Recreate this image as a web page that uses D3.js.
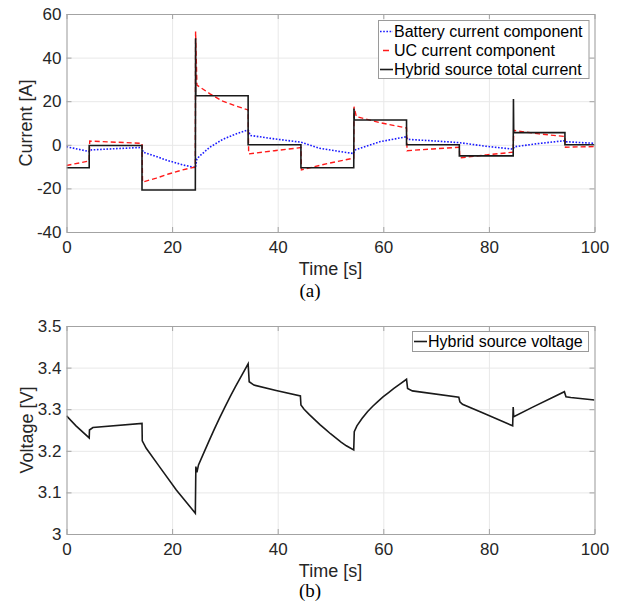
<!DOCTYPE html>
<html>
<head>
<meta charset="utf-8">
<script src="https://cdn.jsdelivr.net/npm/d3@7"></script>
<style>
  html, body { margin: 0; padding: 0; background: #ffffff; }
  svg { display: block; }
</style>
</head>
<body>
<script>
// ---------------- DATA ----------------
// Panel (a): currents [A] vs time [s]
const totalT = [0, 4.3, 4.3, 14.3, 14.3, 24.4, 24.45, 24.5, 34.4, 34.4, 44.4, 44.4, 54.4, 54.45, 54.5, 64.4, 64.4, 74.4, 74.4, 84.6, 84.65, 84.7, 94.4, 94.4, 100];
const totalI = [-10.5, -10.5, -0.3, -0.3, -20.7, -20.7, 48.9, 22.5, 22.5, 0, 0, -10.5, -10.5, 16.7, 11.4, 11.4, 0, 0, -5.1, -5.1, 21, 5.6, 5.6, 0, 0];

const battT = [0, 2, 4.3, 4.4, 9, 14.3, 14.5, 17, 19.3, 22, 24.4, 24.7, 25.2, 27.1, 29.6, 32.1, 34.4, 34.8, 39.4, 44.4, 47.9, 51.5, 54.4, 54.6, 59.3, 64.4, 64.6, 69.5, 74.4, 79.5, 84.6, 84.8, 89.5, 94.4, 94.6, 100];
const battI = [-0.9, -1.9, -3.1, -2.4, -1.8, -1.2, -3.4, -5.4, -7.3, -9.2, -10.5, -6.5, -5.2, -1.2, 2.5, 5.0, 6.8, 4.3, 2.7, 1.2, -1.6, -3.0, -4.0, -2.4, 1.4, 3.7, 2.5, 1.8, 1.0, -0.7, -2.0, -0.9, 0.6, 1.9, 1.4, 0.7];

const ucT = [0, 4.3, 4.4, 14.3, 14.4, 17, 19.3, 22, 24.4, 24.45, 24.7, 27.1, 29.6, 32.1, 34.4, 34.5, 39.4, 44.4, 44.5, 49.4, 54.4, 54.45, 54.9, 59.3, 64.4, 64.5, 69.4, 74.4, 74.5, 79.5, 84.6, 84.7, 89.5, 94.4, 94.5, 100];
const ucI = [-9.5, -7.4, 1.7, 0.7, -17.1, -15.3, -13.4, -11.5, -10.2, 52, 27.4, 23.5, 20.0, 17.8, 16.0, -4.2, -2.7, -1.3, -11.5, -8.6, -6.1, 17.5, 12.9, 10.2, 7.7, -2.7, -1.9, -1.1, -6.0, -4.6, -3.4, 6.6, 5.0, 3.8, -1.1, -0.8];

// Panel (b): voltage [V] vs time [s]
const voltT = [0, 1.8, 4.3, 4.35, 5.0, 14.3, 14.35, 15.1, 17.6, 20.8, 24.4, 24.5, 24.7, 25.0, 26, 27, 28, 29, 30, 31, 32, 33, 34.4, 34.6, 35.5, 39.7, 44.3, 44.4, 45, 46, 47, 48, 49, 50, 51, 52, 53, 54.4, 54.5, 55, 56, 57, 58, 59, 60, 61, 62, 63, 64.4, 64.6, 65.5, 74.3, 74.5, 75, 78.9, 84.5, 84.6, 84.7, 88.3, 94.3, 94.6, 95.5, 100];
const voltV = [3.284, 3.260, 3.231, 3.250, 3.256, 3.266, 3.224, 3.206, 3.162, 3.106, 3.050, 3.162, 3.148, 3.166, 3.195, 3.224, 3.252, 3.279, 3.305, 3.330, 3.354, 3.377, 3.409, 3.366, 3.358, 3.345, 3.332, 3.310, 3.300, 3.287, 3.275, 3.263, 3.252, 3.241, 3.231, 3.221, 3.212, 3.202, 3.246, 3.260, 3.278, 3.294, 3.307, 3.319, 3.330, 3.340, 3.350, 3.359, 3.372, 3.350, 3.344, 3.329, 3.318, 3.312, 3.291, 3.260, 3.305, 3.282, 3.305, 3.342, 3.330, 3.328, 3.322];

// Ticks
const xTicks = [0, 20, 40, 60, 80, 100];
const yTicksA = [-40, -20, 0, 20, 40, 60];
const yTicksB = [3, 3.1, 3.2, 3.3, 3.4, 3.5];
const yTickLabelsB = ["3", "3.1", "3.2", "3.3", "3.4", "3.5"];

const legendA = ["Battery current component", "UC current component", "Hybrid source total current"];
const legendB = ["Hybrid source voltage"];

// ---------------- DRAW ----------------
const W = 626, H = 609;
const FONT = "'Liberation Sans', Arial, Helvetica, sans-serif";
const SERIF = "'Liberation Serif', 'Times New Roman', serif";
const svg = d3.select("body").append("svg").attr("width", W).attr("height", H);
svg.append("rect").attr("width", W).attr("height", H).attr("fill", "#ffffff");

const boxColor = "#a3a3a3";
const gridColor = "#e8e8e8";
const textColor = "#262626";

function panel(opts) {
  const x = d3.scaleLinear().domain([0, 100]).range([opts.left, opts.right]);
  const y = d3.scaleLinear().domain(opts.yDomain).range([opts.bottom, opts.top]);
  const g = svg.append("g");
  const pw = opts.right - opts.left, ph = opts.bottom - opts.top;

  // grid
  g.append("g").attr("transform", `translate(0,${opts.bottom})`)
    .call(d3.axisBottom(x).tickValues(xTicks).tickSize(-ph).tickFormat(""))
    .call(s => { s.select(".domain").remove(); s.selectAll("line").attr("stroke", gridColor).attr("stroke-width", 1); });
  g.append("g").attr("transform", `translate(${opts.left},0)`)
    .call(d3.axisLeft(y).tickValues(opts.yTicks).tickSize(-pw).tickFormat(""))
    .call(s => { s.select(".domain").remove(); s.selectAll("line").attr("stroke", gridColor).attr("stroke-width", 1); });

  // series
  const clipId = "clip" + opts.id;
  svg.append("clipPath").attr("id", clipId).append("rect")
    .attr("x", opts.left).attr("y", opts.top - 1).attr("width", pw).attr("height", ph + 2);
  const line = d3.line().x(d => x(d[0])).y(d => y(d[1]));
  const sg = g.append("g").attr("clip-path", `url(#${clipId})`);
  opts.series.forEach(s => {
    sg.append("path").datum(d3.zip(s.t, s.v))
      .attr("d", line).attr("fill", "none")
      .attr("stroke", s.color).attr("stroke-width", s.width)
      .attr("stroke-dasharray", s.dash || null)
      .attr("stroke-linejoin", "miter");
  });

  // axes with inward ticks
  const styleAxis = s => {
    s.select(".domain").attr("stroke", boxColor).attr("stroke-width", 1);
    s.selectAll(".tick line").attr("stroke", boxColor);
    s.selectAll("text").attr("fill", textColor).style("font-family", FONT).style("font-size", "17px");
  };
  g.append("g").attr("transform", `translate(0,${opts.bottom})`)
    .call(d3.axisBottom(x).tickValues(xTicks).tickSizeInner(-5).tickSizeOuter(0).tickPadding(9))
    .call(styleAxis);
  g.append("g").attr("transform", `translate(0,${opts.top})`)
    .call(d3.axisTop(x).tickValues(xTicks).tickSizeInner(-5).tickSizeOuter(0).tickFormat(""))
    .call(styleAxis);
  g.append("g").attr("transform", `translate(${opts.left},0)`)
    .call(d3.axisLeft(y).tickValues(opts.yTicks).tickSizeInner(-5).tickSizeOuter(0).tickPadding(5)
      .tickFormat((d, i) => opts.yLabels[i]))
    .call(styleAxis);
  g.append("g").attr("transform", `translate(${opts.right},0)`)
    .call(d3.axisRight(y).tickValues(opts.yTicks).tickSizeInner(-5).tickSizeOuter(0).tickFormat(""))
    .call(styleAxis);

  // axis labels
  g.append("text").attr("x", (opts.left + opts.right) / 2).attr("y", opts.bottom + 43)
    .attr("text-anchor", "middle").attr("fill", textColor)
    .style("font-family", FONT).style("font-size", "18px").text("Time [s]");
  g.append("text").attr("transform", `translate(${opts.yLabelX},${(opts.top + opts.bottom) / 2}) rotate(-90)`)
    .attr("text-anchor", "middle").attr("fill", textColor)
    .style("font-family", FONT).style("font-size", "18px").text(opts.yLabel);
  g.append("text").attr("x", 310).attr("y", opts.captionY)
    .attr("text-anchor", "middle").attr("fill", "#000")
    .style("font-family", SERIF).style("font-size", "19px").text(opts.caption);

  // legend
  const L = opts.legend;
  const lg = g.append("g");
  lg.append("rect").attr("x", L.x).attr("y", L.y).attr("width", L.w).attr("height", L.h)
    .attr("fill", "#ffffff").attr("stroke", "#9a9a9a").attr("stroke-width", 1);
  L.items.forEach((it, i) => {
    const cy = L.y + L.first + i * L.step;
    lg.append("line").attr("x1", L.x + 1.5).attr("x2", L.x + 14.5).attr("y1", cy).attr("y2", cy)
      .attr("stroke", it.color).attr("stroke-width", it.width)
      .attr("stroke-dasharray", it.legendDash || null);
    lg.append("text").attr("x", L.x + 15.5).attr("y", cy).attr("dy", "0.36em")
      .attr("fill", "#000").style("font-family", FONT).style("font-size", "16px").text(it.label);
  });
}

const blue = { t: battT, v: battI, color: "#1a1aff", width: 1.6, dash: "1.6,1.6" };
const red = { t: ucT, v: ucI, color: "#ff1a1a", width: 1.4, dash: "5,3" };
const black = { t: totalT, v: totalI, color: "#1a1a1a", width: 1.6 };

panel({
  id: "a", left: 66.5, right: 594.5, top: 14, bottom: 232,
  yDomain: [-40, 60], yTicks: yTicksA, yLabels: yTicksA.map(String),
  yLabel: "Current [A]", yLabelX: 32, caption: "(a)", captionY: 297,
  series: [blue, red, black],
  legend: { x: 378.5, y: 20.5, w: 210.5, h: 58, first: 11, step: 19,
    items: [
      { label: legendA[0], color: blue.color, width: 1.6, legendDash: "1.6,1.6" },
      { label: legendA[1], color: red.color, width: 1.4, legendDash: "0,3,6,10" },
      { label: legendA[2], color: black.color, width: 1.6 }
    ] }
});

panel({
  id: "b", left: 66.5, right: 594.5, top: 326, bottom: 534,
  yDomain: [3, 3.5], yTicks: yTicksB, yLabels: yTickLabelsB,
  yLabel: "Voltage [V]", yLabelX: 33, caption: "(b)", captionY: 597,
  series: [{ t: voltT, v: voltV, color: "#1a1a1a", width: 1.6 }],
  legend: { x: 412.5, y: 331.5, w: 176, h: 20, first: 10, step: 19,
    items: [ { label: legendB[0], color: "#1a1a1a", width: 1.6 } ] }
});
</script>
</body>
</html>
